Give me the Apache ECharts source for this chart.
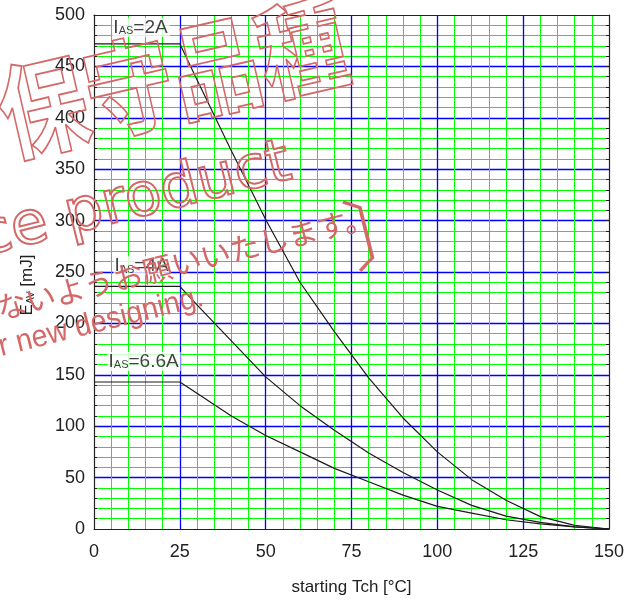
<!DOCTYPE html>
<html>
<head>
<meta charset="utf-8">
<script src="https://cdn.jsdelivr.net/npm/echarts@6/dist/echarts.min.js"></script>
<style>
  html, body { margin: 0; padding: 0; background: #fff; }
  #chart { width: 640px; height: 606px; }
</style>
</head>
<body>
<div id="chart"></div>
<script>
// Avalanche energy vs. starting channel temperature, one curve per avalanche current
const tch       = [0, 25, 30, 40, 50, 60, 70, 80, 90, 100, 110, 120, 130, 140, 150];
const eavIas2A  = [472, 472, 437, 368, 301, 240, 192, 147, 108, 75, 48, 28, 12, 3.5, 0];
const eavIas4A  = [236, 236, 218, 183, 148, 120, 96, 74, 55, 38, 23, 12.5, 6.5, 2, 0];
const eavIas66A = [143, 143, 132, 110, 91, 75, 59, 46, 33, 22, 15.5, 9, 5, 2, 0];
const currents  = ['2A', '4A', '6.6A'];

const xTickLabels = [0, 25, 50, 75, 100, 125, 150];
const yTickLabels = [0, 50, 100, 150, 200, 250, 300, 350, 400, 450, 500];

// anchor (Tch, EAV) where each current label starts
const labelAnchors = [[5.2, 488], [5.5, 256], [3.8, 163]];

const curves = [eavIas2A, eavIas4A, eavIas66A];

const FONT = 'Liberation Sans';
const TEXT = '#222';
const BLUE = '#0000ff';
const GREEN = '#00ff00';
const FRAME = '#222';
const WM = '#d46868';
const deg = Math.PI / 180;

const xMin = xTickLabels[0], xMax = xTickLabels[xTickLabels.length - 1];
const yMin = yTickLabels[0], yMax = yTickLabels[yTickLabels.length - 1];
const xMajor = xTickLabels[1] - xTickLabels[0];
const yMajor = yTickLabels[1] - yTickLabels[0];

const chart = echarts.init(document.getElementById('chart'), null, { renderer: 'canvas' });

const option = {
  animation: false,
  grid: { left: 94, right: 31, top: 15, bottom: 77, containLabel: false },
  xAxis: [
    {
      type: 'value', min: xMin, max: xMax, interval: xMajor, position: 'bottom',
      axisLine: { show: true, onZero: false, lineStyle: { color: FRAME, width: 1.2 } },
      axisTick: { show: false },
      minorTick: { show: false, splitNumber: 5 },
      minorSplitLine: { show: true, lineStyle: { color: GREEN, width: 1 } },
      axisLabel: { color: TEXT, fontSize: 18, fontFamily: FONT, margin: 14 },
      splitLine: { show: true, showMinLine: false, showMaxLine: false, lineStyle: { color: BLUE, width: 1.3 } },
      name: 'starting Tch [°C]', nameLocation: 'middle', nameGap: 50,
      nameTextStyle: { color: TEXT, fontSize: 17, fontFamily: FONT }
    },
    {
      type: 'value', min: xMin, max: xMax, interval: xMajor, position: 'top',
      axisLine: { show: true, onZero: false, lineStyle: { color: FRAME, width: 1.2 } },
      axisTick: { show: false }, axisLabel: { show: false },
      splitLine: { show: false }
    }
  ],
  yAxis: [
    {
      type: 'value', min: yMin, max: yMax, interval: yMajor, position: 'left',
      axisLine: { show: true, onZero: false, lineStyle: { color: FRAME, width: 1.2 } },
      axisTick: { show: true, inside: true, length: 3, lineStyle: { color: FRAME } },
      minorTick: { show: true, splitNumber: 5, length: 3, lineStyle: { color: FRAME } },
      minorSplitLine: { show: true, lineStyle: { color: GREEN, width: 1 } },
      axisLabel: { color: TEXT, fontSize: 18, fontFamily: FONT, margin: 9 },
      splitLine: { show: true, showMinLine: false, showMaxLine: false, lineStyle: { color: BLUE, width: 1.3 } },
      name: 'E{s|AV} [mJ]', nameLocation: 'middle', nameGap: 58, nameRotate: 90,
      nameTextStyle: {
        color: TEXT, fontSize: 17, fontFamily: FONT, padding: [0, 26, 0, 0],
        rich: { s: { fontSize: 10, fontFamily: FONT, color: TEXT, verticalAlign: 'bottom' } }
      }
    },
    {
      type: 'value', min: yMin, max: yMax, interval: yMajor, position: 'right',
      axisLine: { show: true, onZero: false, lineStyle: { color: FRAME, width: 1.2 } },
      axisTick: { show: true, inside: true, length: 3, lineStyle: { color: FRAME } },
      minorTick: { show: true, splitNumber: 5, length: 3, lineStyle: { color: FRAME } },
      axisLabel: { show: false },
      splitLine: { show: false }
    }
  ],
  series: curves.map((vals, i) => ({
    type: 'line',
    name: 'IAS=' + currents[i],
    data: tch.map((t, j) => [t, vals[j]]),
    showSymbol: false,
    silent: true,
    z: 5,
    lineStyle: { color: '#1a1a1a', width: 1.2 }
  })).concat([{
    type: 'scatter',
    name: 'labels',
    silent: true,
    z: 6,
    symbolSize: 1,
    itemStyle: { color: 'rgba(0,0,0,0)' },
    data: labelAnchors.map((p, i) => ({ value: p, label: { formatter: 'I{s|AS}=' + currents[i] } })),
    label: {
      show: true, position: 'right', distance: 0,
      color: '#111', fontSize: 19, fontFamily: FONT,
      backgroundColor: '#fff', padding: [0, 2, 0, 1],
      rich: { s: { fontSize: 11, fontFamily: FONT, color: '#111', verticalAlign: 'bottom' } }
    }
  }]),
  // "maintenance product" stamp laid over the plot
  graphic: [
    {
      type: 'text', x: 0, y: 117, rotation: 13 * deg, scaleX: 0.85, z: 100, silent: true,
      style: { text: '保守品種', font: 'bold 104px "Noto Sans CJK JP"', fill: 'none',
               stroke: WM, lineWidth: 1.8, align: 'left', verticalAlign: 'middle' }
    },
    {
      type: 'text', x: 290, y: 163, rotation: 14 * deg, z: 100, silent: true,
      style: { text: 'Maintenance product', font: '60px "DejaVu Sans"', fill: 'none',
               stroke: WM, lineWidth: 2, align: 'right', verticalAlign: 'middle' }
    },
    {
      type: 'text', x: -3, y: 309, rotation: 14 * deg, z: 100, silent: true,
      style: { text: 'ないようお願いいたします。', font: '30px "Noto Sans CJK JP"', fill: WM,
               align: 'left', verticalAlign: 'middle' }
    },
    {
      type: 'text', x: 203, y: 297, rotation: 14 * deg, scaleX: 0.93, z: 100, silent: true,
      style: { text: 'for new designing.', font: '31px "Liberation Sans"', fill: WM,
               align: 'right', verticalAlign: 'middle' }
    },
    {
      type: 'text', x: 385, y: 228, rotation: 14 * deg, z: 100, silent: true,
      style: { text: '〕', font: '200 78px "Noto Sans CJK JP"', fill: WM,
               align: 'center', verticalAlign: 'middle' }
    }
  ]
};

chart.setOption(option);
</script>
</body>
</html>
